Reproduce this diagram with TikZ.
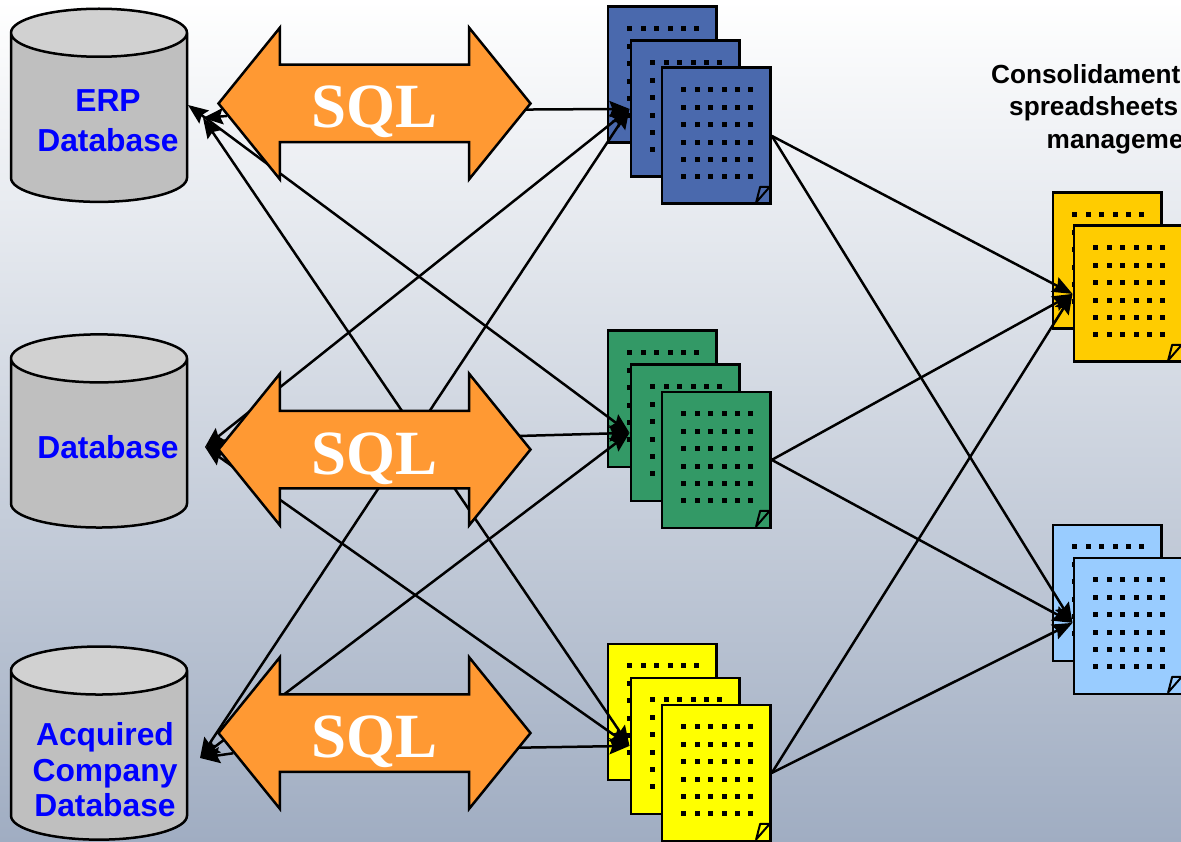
\documentclass[tikz,border=0pt]{standalone}
\usepackage{fontspec}
\setmainfont{Liberation Sans}
\newfontfamily\sqlfont{Liberation Serif}
\usetikzlibrary{positioning,arrows.meta,shapes.geometric,shapes.arrows,shapes.misc}
\pgfdeclarelayer{backpages}
\pgfdeclarelayer{links}
\pgfsetlayers{backpages,links,main}
\definecolor{sqlorange}{HTML}{FF9933}
\definecolor{docblue}{HTML}{4A69AD}
\definecolor{docgreen}{HTML}{339966}
\definecolor{docyellow}{HTML}{FFFF00}
\definecolor{docgold}{HTML}{FFCC00}
\definecolor{docsky}{HTML}{99CCFF}
\definecolor{bgbottom}{HTML}{A0ADC2}
\tikzset{
  dbcyl/.style={cylinder, shape border rotate=90, aspect=0.6, draw, line width=2.5pt,
    cylinder uses custom fill, cylinder body fill=black!25, cylinder end fill=black!18,
    minimum width=176pt, minimum height=192pt, inner xsep=40pt, inner ysep=70pt},
  dbtext/.style={text=blue, align=center, font=\fontsize{31.8}{40}\selectfont\bfseries},
  sqlarrow/.style={double arrow, draw, line width=2.5pt, fill=sqlorange, text=white,
    double arrow tip angle=102, double arrow head extend=37pt, double arrow head indent=0pt,
    minimum height=312pt, minimum width=149pt, inner sep=0pt, text height=62pt, text depth=13pt,
    font=\fontsize{63}{63}\selectfont\sqlfont\bfseries},
  docpage/.style={chamfered rectangle, chamfered rectangle corners=south east,
    chamfered rectangle xsep=14pt, chamfered rectangle ysep=17pt,
    draw, line width=2.8pt, fill=#1, minimum width=108.5pt, minimum height=136pt, inner sep=0pt,
    path picture={
      \foreach \i in {0,...,5}
        \foreach \j in {0,...,5}
          \fill[black] ([shift={(19.5+13.4*\i,19.5+17.4*\j)}]path picture bounding box.north west) rectangle +(5,5);
    }},
  link/.style={<->, line width=2.5pt},
  feed/.style={->, line width=2.5pt},
}
\newcommand{\docfold}[2]{%
  \draw[line width=2pt, line join=round, fill=#2] ([shift={(40,66.5)}]#1.center) -- ([shift={(53.5,51)}]#1.center) -- ([shift={(44,51)}]#1.center) -- cycle;
}
\begin{document}
\begin{tikzpicture}[x=1pt, y=-1pt, >={Stealth[length=20pt, width=16pt, inset=3pt]}]
\useasboundingbox (0,0) rectangle (1181,842);

% Background
\begin{pgfonlayer}{backpages}
\fill[top color=white, bottom color=bgbottom] (0,0) rectangle (1181,842);
\end{pgfonlayer}

% Databases
\node[dbcyl] (erp) at (99,128) {};
\node[dbcyl, below=130pt of erp] (maindb) {};
\node[dbcyl, below=116.5pt of maindb] (acquired) {};
\node[dbtext] (erplabel) at (108,121) {ERP\\Database};
\node[dbtext] (mainlabel) at (108,447) {Database};
\node[dbtext, font=\fontsize{31.8}{35.5}\selectfont\bfseries] (acqlabel) at (105,770) {Acquired\\Company\\Database};

% Free ends of the links on the left
\coordinate (erptip) at (188,105);
\coordinate (erpnear) at (203,118);
\coordinate (maintip) at (205,447);
\coordinate (acqtip) at (200,758);

% SQL arrows
\node[sqlarrow] (sqlerp) at (374.5,103.5) {SQL};
\node[sqlarrow, below=266pt of sqlerp] (sqlmain) {SQL};
\node[sqlarrow, below=203.5pt of sqlmain] (sqlacq) {SQL};

% Document stacks
\foreach \stk/\col/\ytop in {blue/docblue/5.5, green/docgreen/329.5, yellow/docyellow/642.5} {
  \begin{pgfonlayer}{backpages}
  \node[docpage=\col, anchor=north west] (\stk a) at (606.5,\ytop) {};
  \end{pgfonlayer}
  \node[docpage=\col, anchor=north west] (\stk b) at ([shift={(23,34)}]\stk a.north west) {};
  \node[docpage=\col, anchor=north west] (\stk c) at ([shift={(31,27)}]\stk b.north west) {};
  \docfold{\stk c}{\col}
}
\foreach \stk/\col/\ytop in {gold/docgold/191.5, sky/docsky/523.5} {
  \begin{pgfonlayer}{backpages}
  \node[docpage=\col, anchor=north west] (\stk a) at (1051.5,\ytop) {};
  \end{pgfonlayer}
  \node[docpage=\col, anchor=north west] (\stk b) at ([shift={(21,33)}]\stk a.north west) {};
  \docfold{\stk b}{\col}
}
\coordinate (skytip) at ([yshift=3pt]skyb.west);

% Links
\begin{pgfonlayer}{links}
\draw[feed] ([yshift=-7pt]sqlerp.center) -- (blueb.west);
\draw[feed] ([yshift=9.5pt]sqlmain.center) -- (greenb.west);
\draw[feed] ([yshift=-17pt]sqlacq.center) -- (yellowb.west);
\draw[feed] (sqlerp) -- (erpnear);
\draw[feed] (sqlmain) -- (maintip);
\draw[feed] (sqlacq) -- (acqtip);
\draw[link] (maintip) -- (blueb.west);
\draw[link] (acqtip) -- (blueb.west);
\draw[link] (erptip) -- (greenb.west);
\draw[link] (acqtip) -- (greenb.west);
\draw[link] (erpnear) -- (yellowb.west);
\draw[link] (maintip) -- (yellowb.west);
\foreach \i in {bluec,greenc,yellowc}
  \foreach \j in {goldb.west,skytip}
    \draw[feed] (\i.east) -- (\j);
\end{pgfonlayer}

% Caption
\node[anchor=north west, align=left, inner sep=0pt, font=\fontsize{26.2}{32.5}\selectfont\bfseries] (caption) at (991,64) {Consolidament\\\hspace*{18pt}spreadsheets\\\hspace*{55.5pt}manageme};
\end{tikzpicture}
\end{document}
